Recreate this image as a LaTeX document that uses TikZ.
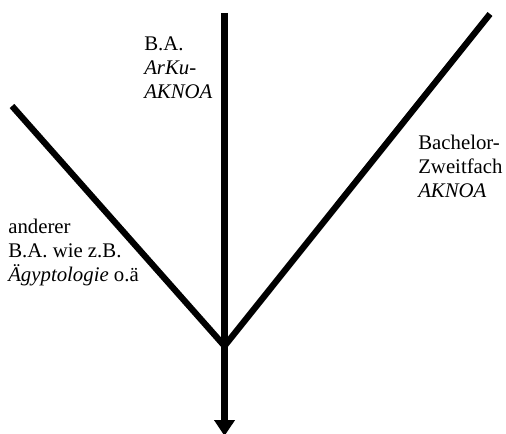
\documentclass[tikz,border=0pt]{standalone}
\usepackage{fontspec}
\setmainfont{Liberation Serif}
\usetikzlibrary{arrows.meta}
\begin{document}
\begin{tikzpicture}[x=0.75pt,y=-0.75pt,
  branch/.style={line width=4.7pt, line cap=butt, line join=miter},
  label/.style={inner sep=0pt, anchor=north west, align=left,
    font=\fontsize{15.6pt}{17.8pt}\selectfont}]
\useasboundingbox (0,0) rectangle (506,434);
\coordinate (top) at (224.5,13);
\coordinate (J) at (224.5,346);
\coordinate (L) at (12,106);
\coordinate (R) at (490,14);
\coordinate (out) at (224.5,436);
\draw[branch] (L) -- (J) -- (R);
\draw[branch, -{Triangle[width=15pt,length=12pt]}] (top) -- (out);
\node[label] (ba) at (144,37) {B.A.\\\textit{ArKu-}\\\textit{AKNOA}};
\node[label] (other) at (8,219) {anderer\\B.A. wie z.B.\\\textit{Ägyptologie} o.ä};
\node[label] (bach) at (418,135) {Bachelor-\\Zweitfach\\\textit{AKNOA}};
\end{tikzpicture}
\end{document}
